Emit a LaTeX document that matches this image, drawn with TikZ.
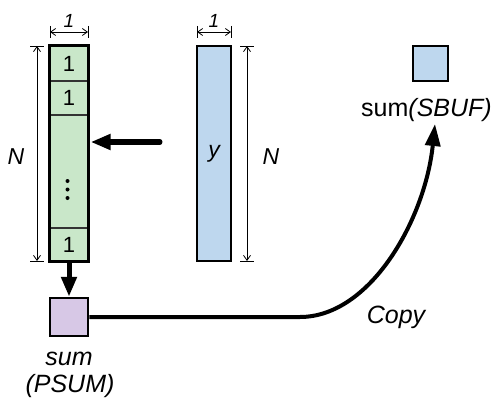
\documentclass[tikz,border=0pt]{standalone}
\usepackage{fontspec}
\setmainfont{Liberation Sans}
\usetikzlibrary{arrows.meta}
\definecolor{accgreen}{RGB}{201,231,201}
\definecolor{bufblue}{RGB}{190,215,238}
\definecolor{psumpurple}{RGB}{215,200,230}

\begin{document}
\begin{tikzpicture}
	[x=1pt,y=-1pt,
	 cell/.style={draw=black!80,line width=1.3pt,fill=accgreen,minimum width=38pt,inner sep=0pt,font=\fontsize{22}{24}\selectfont},
	 tile/.style={draw=black,line width=2.5pt,inner sep=0pt},
	 dim/.style={line width=0.8pt,{Straight Barb[length=5pt,width=7pt]}-{Straight Barb[length=5pt,width=7pt]}},
	 tick/.style={line width=0.8pt},
	 lbl/.style={font=\fontsize{25}{30}\selectfont},
	 dimlbl/.style={font=\fontsize{19}{20}\selectfont\itshape},
	 bigarrow/.style={line width=5pt,-{Triangle[length=20pt,width=15pt]}}]

	\useasboundingbox (0,0) rectangle (504,420);

	\node[cell,minimum height=35pt] (c1) at (69,63.5) {1};
	\node[cell,minimum height=34pt] (c2) at (69,98) {1};
	\node[cell,minimum height=113pt] (cmid) at (69,171.5) {};
	\node[cell,minimum height=33pt] (cn) at (69,244.5) {1};
	\draw[tile] (c1.north west) rectangle (cn.south east);
	\foreach \yy in {181,189.5,198} \fill (67.5,\yy) circle (2);

	\node[tile,fill=bufblue,minimum width=34pt,minimum height=215pt,font=\fontsize{23}{24}\selectfont\itshape] (ybuf) at (214,153.5) {y};

	\draw[dim] (50,32) -- (88,32) node[midway,above=1pt,dimlbl] {1};
	\draw[tick] (50,26) -- (50,38) (88,26) -- (88,38);
	\draw[dim] (197,32) -- (231,32) node[midway,above=1pt,dimlbl] {1};
	\draw[tick] (197,26) -- (197,38) (231,26) -- (231,38);

	\draw[dim] (37,46) -- (37,261);
	\draw[tick] (30,46) -- (44,46) (30,261) -- (44,261);
	\node[font=\fontsize{23}{24}\selectfont\itshape] (nleft) at (16,157) {N};
	\draw[dim] (247,46) -- (247,261);
	\draw[tick] (240,46) -- (254,46) (240,261) -- (254,261);
	\node[font=\fontsize{23}{24}\selectfont\itshape] (nright) at (271,157) {N};

	\coordinate (ysrc) at (160,142);
	\draw[bigarrow,line cap=round] (ysrc) -- ([xshift=2pt]cmid.east |- ysrc);

	\node[tile,fill=psumpurple,minimum width=38pt,minimum height=38pt] (psum) at (69,317) {};
	\draw[bigarrow] (cn.south) -- (psum.north);
	\node[lbl,anchor=base] (psumlbl) at (69,365) {\itshape sum};
	\node[lbl,anchor=base] at (70,392) {\itshape (PSUM)};

	\node[tile,fill=bufblue,minimum width=35pt,minimum height=35pt] (sbuf) at (430.5,63.5) {};
	\node[lbl,anchor=base] (sbuflbl) at (426.5,117) {sum\textit{(SBUF)}};

	\coordinate (sbuftip) at (435,124);
	\draw[line width=4pt,-{Triangle[length=22pt,width=15pt]}] (psum.east) -- (300,317) .. controls (370,317) and (425,220) .. (sbuftip);
	\node[lbl,anchor=base] (copy) at (396,323) {\itshape Copy};
\end{tikzpicture}
\end{document}
